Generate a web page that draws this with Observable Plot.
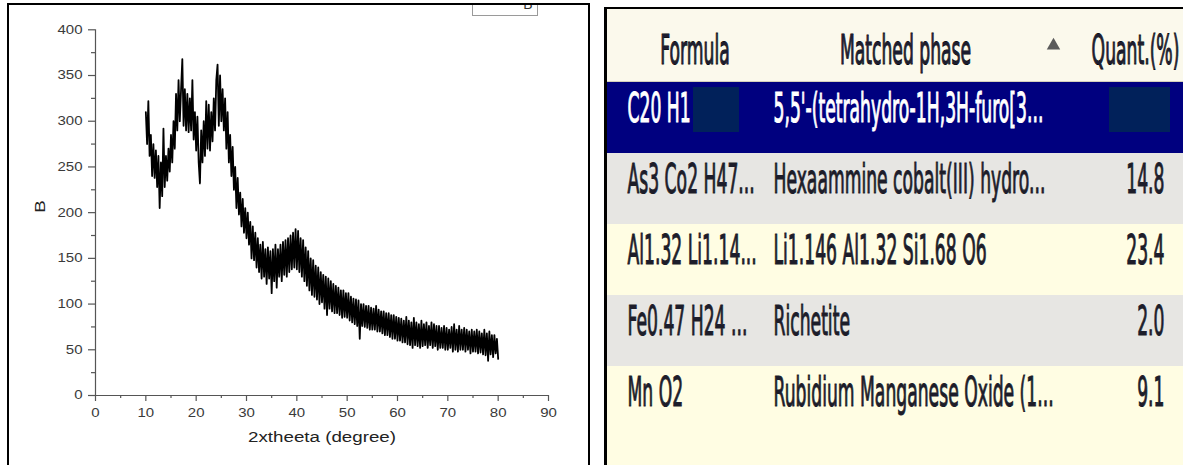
<!DOCTYPE html>
<html>
<head>
<meta charset="utf-8">
<script src="https://cdn.jsdelivr.net/npm/d3@7"></script>
<script src="https://cdn.jsdelivr.net/npm/@observablehq/plot@0.6"></script>
<style>
  html, body { margin: 0; padding: 0; background: #fff; }
  #page { position: relative; width: 1183px; height: 465px; overflow: hidden; background: #fff; }
  #left { position: absolute; left: 7px; top: 3px; width: 579px; height: 480px;
          border: 2.5px solid #000; overflow: hidden; background: #fff; }
  #left svg { position: absolute; left: -9.5px; top: -5.5px; max-width: none; }
  #legend { position: absolute; left: 462.5px; top: -9.5px; width: 64px; height: 18.7px;
            border: 1px solid #9a9a9a; background: #fff; }
  #legend span { position: absolute; left: 50.8px; top: 0.6px; font: 14px/14px "Liberation Sans", Arial, sans-serif; color: #333; }
  #right { position: absolute; left: 604px; top: 7px; width: 576px; height: 460px;
           border-left: 3px solid #000; border-top: 2.5px solid #000; overflow: hidden; background: #fffde3; }
  #right svg { position: absolute; left: 0; top: 0; max-width: none; }
</style>
</head>
<body>
<div id="page">
  <div id="left"><div id="legend"><span>B</span></div></div>
  <div id="right"></div>
</div>
<script>
// ---- XRD scan: intensity B against 2θ, recorded from 10° to 80° every 0.25° ----
const scanStart = 10;
const scanStep = 0.25;
const counts = [
  310, 275, 322, 262, 285, 240, 275, 238, 268, 228, 262, 205, 255, 218, 292, 228, 262, 235, 270, 245,
  285, 255, 300, 270, 330, 290, 345, 300, 335, 368, 295, 335, 290, 330, 288, 325, 290, 345, 280, 310,
  268, 305, 255, 232, 290, 255, 300, 262, 322, 270, 318, 268, 310, 278, 325, 290, 345, 362, 295, 350,
  300, 335, 290, 325, 270, 310, 255, 285, 240, 272, 225, 250, 205, 238, 198, 222, 185, 215, 178, 205,
  172, 200, 165, 190, 150, 185, 148, 178, 140, 172, 135, 165, 128, 168, 130, 160, 122, 162, 128, 158,
  112, 160, 125, 165, 118, 160, 130, 165, 125, 168, 132, 170, 130, 172, 135, 175, 138, 178, 140, 182,
  138, 180, 135, 172, 130, 170, 125, 162, 120, 158, 115, 150, 110, 148, 108, 142, 105, 140, 100, 135,
  102, 132,  95, 130,  88, 128,  95, 125,  92, 122,  90, 120,  90, 118,  88, 115,  85, 115,  86, 112,
   85, 112,  82, 108,  80, 106,  78, 105,  76, 104,  62, 100,  76, 100,  75,  98,  74,  98,  72,  96,
   72,  95,  72,  98,  70,  94,  70,  92,  68,  92,  66,  90,  66,  90,  64,  88,  62,  88,  62,  86,
   60,  85,  60,  84,  58,  82,  58,  86,  56,  82,  55,  80,  52,  85,  55,  80,  54,  78,  52,  82,
   54,  78,  55,  80,  52,  76,  55,  80,  52,  78,  54,  76,  50,  76,  52,  74,  52,  76,  50,  74,
   50,  72,  52,  75,  48,  78,  50,  72,  48,  76,  50,  72,  50,  74,  48,  72,  50,  70,  46,  72,
   48,  70,  48,  72,  46,  70,  47,  68,  45,  72,  44,  68,  38,  70,  45,  66,  42,  66,  46,  62,
   40
];
const xTicks = [0, 10, 20, 30, 40, 50, 60, 70, 80, 90];
const xMinorTicks = [5, 15, 25, 35, 45, 55, 65, 75, 85];
const yTicks = [0, 50, 100, 150, 200, 250, 300, 350, 400];
const yMinorTicks = [25, 75, 125, 175, 225, 275, 325, 375];
const xLabel = "2xtheeta (degree)";
const yLabel = "B";

// ---- Phase identification table ----
const columns = ["Formula", "Matched phase", "Quant.(%)"];
const formulas = ["C20 H1", "As3 Co2 H47...", "Al1.32 Li1.14...", "Fe0.47 H24 ...", "Mn O2"];
const phases = [
  "5,5'-(tetrahydro-1H,3H-furo[3...",
  "Hexaammine cobalt(III) hydro...",
  "Li1.146 Al1.32 Si1.68 O6",
  "Richetite",
  "Rubidium Manganese Oxide (1..."
];
const quants = [null, 14.8, 23.4, 2.0, 9.1];
const selectedRow = 0;

// Stretch or squeeze the glyphs of every text element horizontally around its anchor.
function scaleGlyphs(svg, sx, weight) {
  svg.querySelectorAll("text").forEach((t) => {
    const tr = t.getAttribute("transform") || "";
    const x = parseFloat(t.getAttribute("x")) || 0;
    t.setAttribute("transform", `${tr} translate(${x},0) scale(${sx},1) translate(${-x},0)`);
    if (weight) {
      t.setAttribute("stroke", t.getAttribute("fill") || "currentColor");
      t.setAttribute("stroke-width", weight);
      t.setAttribute("vector-effect", "non-scaling-stroke");
      t.setAttribute("paint-order", "stroke");
    }
  });
}

// ---- Left: diffractogram ----
const xrd = counts.map((c, i) => ({theta: scanStart + i * scanStep, counts: c}));
const axisColor = "#555";
const chart = Plot.plot({
  width: 600,
  height: 470,
  marginLeft: 95,
  marginRight: 52,
  marginTop: 29.3,
  marginBottom: 75,
  x: {domain: [0, 90]},
  y: {domain: [0, 400]},
  style: {fontFamily: "'Liberation Sans', Arial, sans-serif", fontSize: "12px", color: "#3a3a3a", background: "transparent", overflow: "visible"},
  marks: [
    Plot.ruleY([0], {stroke: axisColor, strokeWidth: 1.2}),
    Plot.ruleX([0], {stroke: axisColor, strokeWidth: 1.2}),
    Plot.axisX(xTicks, {tickSize: 6, tickPadding: 7, stroke: axisColor, strokeWidth: 1.2, label: null}),
    Plot.axisX(xMinorTicks, {tickSize: 3, tickFormat: () => "", stroke: axisColor, strokeWidth: 1.2, label: null}),
    Plot.axisY(yTicks, {tickSize: 7, tickPadding: 6, stroke: axisColor, strokeWidth: 1.2, label: null}),
    Plot.axisY(yMinorTicks, {tickSize: 4, tickFormat: () => "", stroke: axisColor, strokeWidth: 1.2, label: null}),
    Plot.line(xrd, {x: "theta", y: "counts", stroke: "#000", strokeWidth: 1.8}),
    Plot.text([xLabel], {frameAnchor: "bottom", dy: 46, fontSize: 15, fill: "#222"}),
    Plot.text([yLabel], {frameAnchor: "left", dx: -55, rotate: -90, fontSize: 15, fill: "#222"})
  ]
});
scaleGlyphs(chart, 1.25);
document.getElementById("left").appendChild(chart);

// ---- Right: table of matched phases ----
const rowKeys = ["header", ...formulas.map((_, i) => `r${i}`), "spare"];
const rows = formulas.map((f, i) => ({key: `r${i}`, formula: f, phase: phases[i], quant: quants[i], selected: i === selectedRow}));
const navy = "#00007f", grey = "#e7e6e3", cream = "#fffde3";
const rowFill = (d, i) => d.selected ? navy : (i % 2 ? grey : cream);
const textFill = (d) => d.selected ? "#ffffff" : "#1d1d2a";
const layout = {
  rowStep: 71.2, top: 1.2,
  separators: [14, 161, 461],
  header: {Formula: 87.5, "Matched phase": 298, "Quant.(%)": 528},
  arrowX: 446,
  formulaX: 20, phaseX: 166, quantRight: 557,
  masks: [{x1: 86, x2: 132}, {x1: 502, x2: 563}]
};
const tableFont = 40;

const table = Plot.plot({
  width: 576,
  height: 456,
  margin: 0,
  x: {type: "identity", axis: null},
  y: {type: "band", domain: rowKeys, range: [layout.top, layout.top + rowKeys.length * layout.rowStep], padding: 0, axis: null},
  style: {fontFamily: "'DejaVu Sans', Verdana, sans-serif", background: "transparent"},
  marks: [
    // row bands
    Plot.barX(rows, {x1: 0, x2: 576, y: "key", fill: rowFill}),
    // header band
    Plot.barX(["header"], {x1: 0, x2: 576, y: (d) => d, fill: "#fbf9ec", insetTop: -3}),
    Plot.barX(["header"], {x1: 0, x2: 576, y: (d) => d, fill: "#d4d0bc", insetTop: 70}),
    Plot.ruleX(layout.separators, {x: (d) => d, y: () => "header", stroke: "#d9d5c2", strokeWidth: 1.5, insetTop: 5, insetBottom: 3}),
    Plot.ruleX(layout.separators, {x: (d) => d + 1.5, y: () => "header", stroke: "#ffffff", strokeWidth: 1, insetTop: 5, insetBottom: 3}),
    Plot.text(columns, {x: (d) => layout.header[d], y: () => "header", text: (d) => d, fontSize: tableFont, fill: "#1d1d2f", dy: 4}),
    Plot.dot(["header"], {x: layout.arrowX, y: (d) => d, symbol: "triangle", r: 5, fill: "#5b5b5b", dy: -1.5}),
    // cell contents
    Plot.text(rows, {x: layout.formulaX, y: "key", text: "formula", textAnchor: "start", fontSize: tableFont, fill: textFill, dy: -9}),
    Plot.text(rows, {x: layout.phaseX, y: "key", text: "phase", textAnchor: "start", fontSize: tableFont, fill: textFill, dy: -9}),
    Plot.text(rows.filter((d) => d.quant != null), {x: layout.quantRight, y: "key", text: (d) => d.quant.toFixed(1), textAnchor: "end", fontSize: tableFont, fill: textFill, dy: -9}),
    // masked cells of the selected row
    Plot.barX(layout.masks, {x1: "x1", x2: "x2", y: () => rows[selectedRow].key, fill: "#01215a", insetTop: 5, insetBottom: 21})
  ]
});
scaleGlyphs(table, 0.43, 0.9);
document.getElementById("right").appendChild(table);
</script>
</body>
</html>
